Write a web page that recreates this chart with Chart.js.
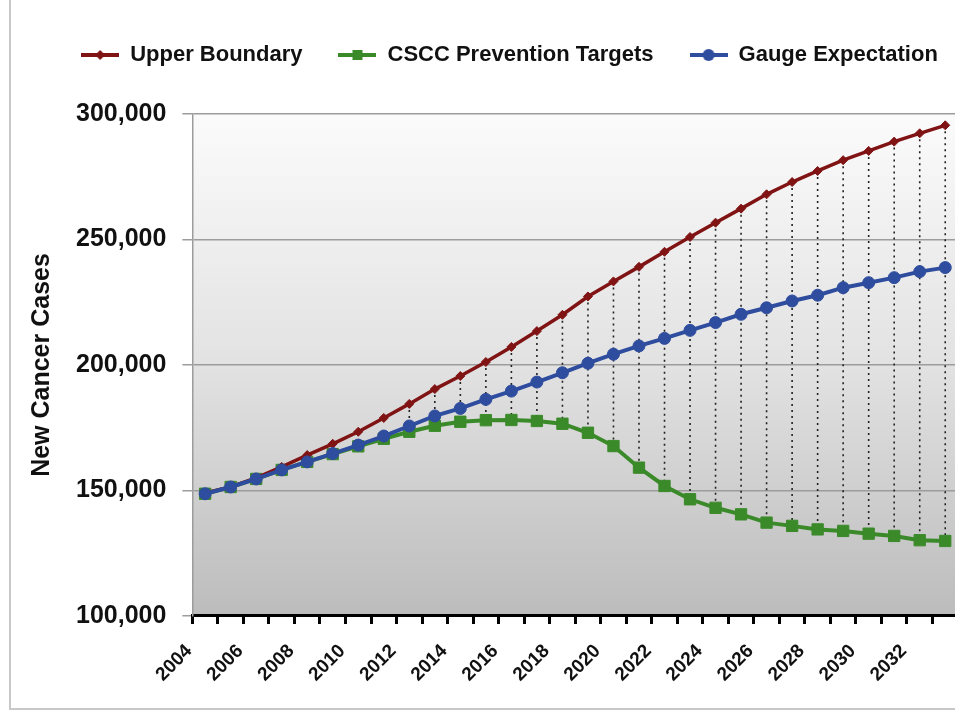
<!DOCTYPE html>
<html>
<head>
<meta charset="utf-8">
<script src="https://cdn.jsdelivr.net/npm/chart.js@4.4.1/dist/chart.umd.min.js"></script>
<style>
  html, body { margin: 0; padding: 0; background: #fff; overflow: hidden; }
  #wrap { width: 1018px; height: 712px; }
</style>
</head>
<body>
<div id="wrap"><canvas id="chart" width="1018" height="712"></canvas></div>
<script>
// years 2004 - 2033
const years = ['2004', '2005', '2006', '2007', '2008', '2009', '2010', '2011', '2012', '2013',
    '2014', '2015', '2016', '2017', '2018', '2019', '2020', '2021', '2022', '2023',
    '2024', '2025', '2026', '2027', '2028', '2029', '2030', '2031', '2032', '2033']

const upperBoundary = [149000, 151400, 155000, 159400, 164100, 168600, 173400, 178900, 184500, 190400,
    195600, 201200, 207200, 213500, 220000, 227300, 233300, 239100, 245100, 251000,
    256700, 262300, 268000, 272900, 277300, 281600, 285300, 289000, 292300, 295500]

const cscsTargets = [148700, 151400, 154600, 158200, 161400, 164500, 167600, 170600, 173400, 175800,
    177400, 178000, 178100, 177700, 176600, 173000, 167700, 159100, 151800, 146500,
    143100, 140500, 137200, 135900, 134500, 133900, 132800, 131900, 130200, 129900]

const gaugeExpectation = [148700, 151400, 154600, 158200, 161400, 164700, 168100, 171700, 175700, 179700,
    182700, 186300, 189600, 193200, 196900, 200700, 204300, 207600, 210600, 213800,
    216900, 220200, 222800, 225500, 227800, 230800, 232800, 234800, 237200, 238800]

const yTicks = [100000, 150000, 200000, 250000, 300000]
const dropLineStart = 8 // 2012 onward

const red = '#801313'
const green = '#3b8a2a'
const blue = '#2f4d9e'
const font = "'Liberation Sans', Arial, sans-serif"

// little line+marker icons for the legend
function legendIcon(color, style) {
    const c = document.createElement('canvas')
    c.width = 38
    c.height = 16
    const g = c.getContext('2d')
    g.strokeStyle = color
    g.fillStyle = color
    g.lineWidth = 4
    g.beginPath()
    g.moveTo(0, 8)
    g.lineTo(38, 8)
    g.stroke()
    g.beginPath()
    if (style === 'diamond') {
        g.moveTo(19, 3); g.lineTo(24, 8); g.lineTo(19, 13); g.lineTo(14, 8)
    } else if (style === 'square') {
        g.rect(14, 3, 10, 10)
    } else {
        g.arc(19, 8, 6, 0, Math.PI * 2)
    }
    g.fill()
    return c
}
const icons = [legendIcon(red, 'diamond'), legendIcon(green, 'square'), legendIcon(blue, 'circle')]

const plotBackground = {
    id: 'plotBackground',
    beforeInit(chart) {
        // a bit more room under the legend
        const fit = chart.legend.fit
        chart.legend.fit = function () {
            fit.call(this)
            this.height += 38
        }
    },
    afterLayout(chart) {
        // the source picture is cropped, legend sits a bit right of centre
        chart.legend.left += 20
        chart.legend.right += 20
    },
    beforeDraw(chart) {
        const { ctx, chartArea: a } = chart
        ctx.save()
        const grad = ctx.createLinearGradient(0, a.top, 0, a.bottom)
        grad.addColorStop(0, '#fbfbfb')
        grad.addColorStop(0.5, '#e2e2e2')
        grad.addColorStop(1, '#bcbcbc')
        ctx.fillStyle = grad
        ctx.fillRect(a.left, a.top, a.right - a.left, a.bottom - a.top)
        // outer frame
        ctx.strokeStyle = '#c8c8c8'
        ctx.lineWidth = 2
        ctx.beginPath()
        ctx.moveTo(10, 0)
        ctx.lineTo(10, 709)
        ctx.lineTo(chart.width, 709)
        ctx.stroke()
        ctx.restore()
    },
}

const dropLines = {
    id: 'dropLines',
    beforeDatasetsDraw(chart) {
        const { ctx, scales: { x, y } } = chart
        ctx.save()
        ctx.strokeStyle = '#222'
        ctx.lineWidth = 1.6
        ctx.setLineDash([2, 4])
        for (let i = dropLineStart; i < years.length; i++) {
            const px = x.getPixelForValue(i)
            ctx.beginPath()
            ctx.moveTo(px, y.getPixelForValue(upperBoundary[i]))
            ctx.lineTo(px, y.getPixelForValue(cscsTargets[i]))
            ctx.stroke()
        }
        ctx.restore()
    },
}

const ctx = document.getElementById('chart').getContext('2d')

new Chart(ctx, {
    type: 'line',
    data: {
        labels: years,
        datasets: [
            {
                label: 'Upper Boundary',
                data: upperBoundary,
                borderColor: red,
                backgroundColor: red,
                borderWidth: 3.5,
                pointStyle: 'rectRot',
                pointRadius: 4.5,
                pointBorderWidth: 1,
                order: 1,
            },
            {
                label: 'CSCC Prevention Targets',
                data: cscsTargets,
                borderColor: green,
                backgroundColor: green,
                borderWidth: 4,
                pointStyle: 'rect',
                pointRadius: 8,
                pointBorderWidth: 1,
                order: 2,
            },
            {
                label: 'Gauge Expectation',
                data: gaugeExpectation,
                borderColor: blue,
                backgroundColor: blue,
                borderWidth: 4,
                pointStyle: 'circle',
                pointRadius: 6,
                pointBorderWidth: 1,
                order: 0,
            },
        ],
    },
    options: {
        responsive: false,
        animation: false,
        events: [],
        layout: { padding: { left: 21, right: 60, top: 8, bottom: 10 } },
        elements: { line: { tension: 0 } },
        plugins: {
            tooltip: { enabled: false },
            legend: {
                position: 'top',
                labels: {
                    color: '#111',
                    font: { family: font, size: 22, weight: 'bold' },
                    usePointStyle: true,
                    pointStyleWidth: 38,
                    padding: 36,
                    sort: (a, b) => a.datasetIndex - b.datasetIndex,
                    generateLabels(chart) {
                        const items = Chart.defaults.plugins.legend.labels.generateLabels(chart)
                        items.forEach(it => { it.pointStyle = icons[it.datasetIndex] })
                        return items
                    },
                },
            },
        },
        scales: {
            x: {
                offset: true,
                grid: {
                    offset: true,
                    drawOnChartArea: false,
                    drawTicks: true,
                    tickLength: 8,
                    tickWidth: 3,
                    tickColor: '#000',
                },
                border: { color: '#000', width: 3 },
                ticks: {
                    autoSkip: false,
                    minRotation: 45,
                    maxRotation: 45,
                    labelOffset: -16,
                    padding: 16,
                    color: '#111',
                    font: { family: font, size: 19, weight: 'bold' },
                    callback(v, i) { return i % 2 === 0 ? years[i] : '' },
                },
            },
            y: {
                min: 100000,
                max: 300000,
                afterBuildTicks(scale) { scale.ticks = yTicks.map(v => ({ value: v })) },
                grid: {
                    color: '#9c9c9c',
                    lineWidth: 1.5,
                    tickLength: 10,
                    tickColor: '#9c9c9c',
                },
                border: { color: '#9c9c9c', width: 1.5 },
                ticks: {
                    padding: 16,
                    color: '#111',
                    font: { family: font, size: 25, weight: 'bold' },
                    callback: v => v.toLocaleString('en-US'),
                },
                title: {
                    display: true,
                    text: 'New Cancer Cases',
                    color: '#111',
                    font: { family: font, size: 25, weight: 'bold' },
                    padding: { top: 6, bottom: 3 },
                },
            },
        },
    },
    plugins: [plotBackground, dropLines],
})
</script>
</body>
</html>
